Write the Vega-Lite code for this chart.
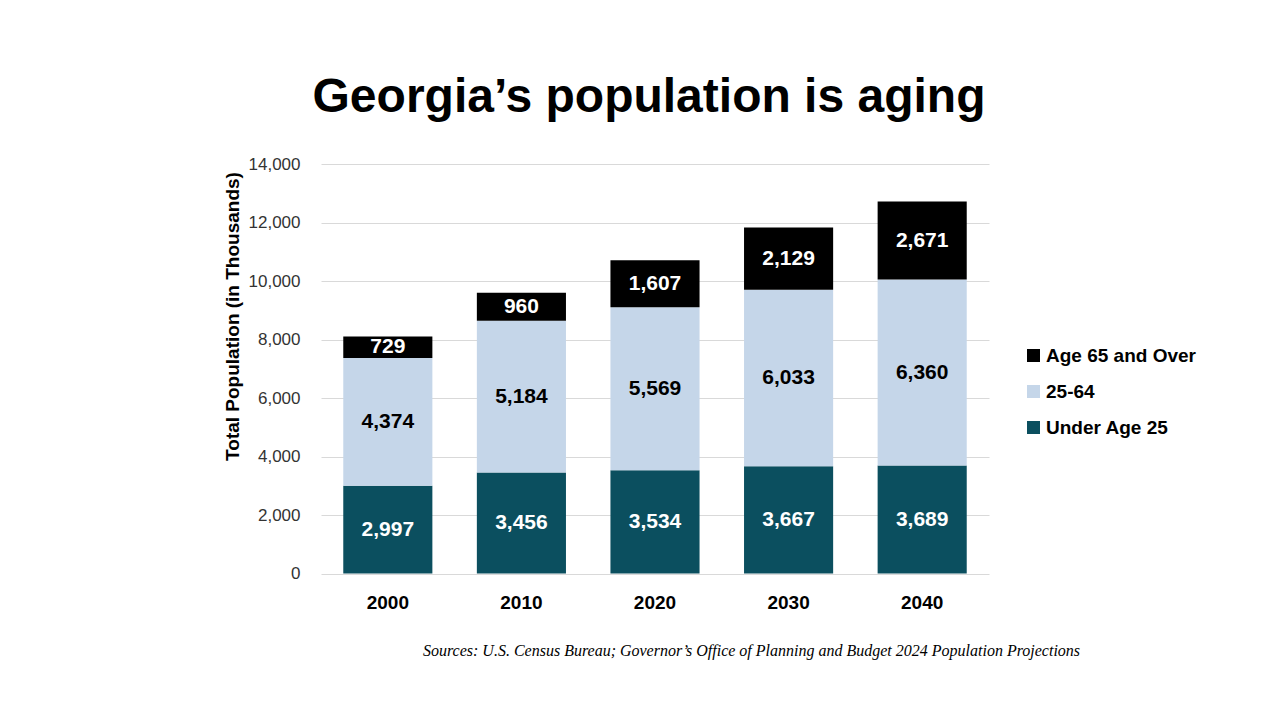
{
  "$schema": "https://vega.github.io/schema/vega-lite/v6.json",
  "width": 668,
  "height": 409.5,
  "autosize": {"type": "none"},
  "padding": {"left": 321, "top": 164, "right": 296, "bottom": 147.5},
  "background": "white",
  "title": {
    "text": "Georgia’s population is aging",
    "frame": "group",
    "anchor": "middle",
    "dx": -6,
    "offset": -5,
    "baseline": "alphabetic",
    "font": "Liberation Sans",
    "fontSize": 48,
    "fontWeight": "bold",
    "color": "#000000"
  },
  "data": {
    "values": [
      {"year": "2000", "group": "Under Age 25", "population": 2997, "order": 1},
      {"year": "2000", "group": "25-64", "population": 4374, "order": 2},
      {"year": "2000", "group": "Age 65 and Over", "population": 729, "order": 3},
      {"year": "2010", "group": "Under Age 25", "population": 3456, "order": 1},
      {"year": "2010", "group": "25-64", "population": 5184, "order": 2},
      {"year": "2010", "group": "Age 65 and Over", "population": 960, "order": 3},
      {"year": "2020", "group": "Under Age 25", "population": 3534, "order": 1},
      {"year": "2020", "group": "25-64", "population": 5569, "order": 2},
      {"year": "2020", "group": "Age 65 and Over", "population": 1607, "order": 3},
      {"year": "2030", "group": "Under Age 25", "population": 3667, "order": 1},
      {"year": "2030", "group": "25-64", "population": 6033, "order": 2},
      {"year": "2030", "group": "Age 65 and Over", "population": 2129, "order": 3},
      {"year": "2040", "group": "Under Age 25", "population": 3689, "order": 1},
      {"year": "2040", "group": "25-64", "population": 6360, "order": 2},
      {"year": "2040", "group": "Age 65 and Over", "population": 2671, "order": 3}
    ]
  },
  "encoding": {
    "x": {
      "field": "year",
      "type": "nominal",
      "sort": null,
      "title": "Sources: U.S. Census Bureau; Governor’s Office of Planning and Budget 2024 Population Projections",
      "scale": {"paddingInner": 0.333, "paddingOuter": 0.1667}
    },
    "order": {"field": "order", "type": "quantitative"}
  },
  "layer": [
    {
      "mark": {"type": "bar"},
      "encoding": {
        "y": {
          "field": "population",
          "type": "quantitative",
          "stack": "zero",
          "title": "Total Population (in Thousands)",
          "scale": {"domain": [0, 14000]},
          "axis": {"format": ",.0f", "values": [0, 2000, 4000, 6000, 8000, 10000, 12000, 14000]}
        },
        "color": {
          "field": "group",
          "type": "nominal",
          "scale": {
            "domain": ["Age 65 and Over", "25-64", "Under Age 25"],
            "range": ["#000000", "#c5d6e9", "#0b4f5f"]
          },
          "legend": {
            "title": null,
            "orient": "none",
            "legendX": 703,
            "legendY": 182,
            "padding": 0,
            "symbolType": "square",
            "symbolSize": 169,
            "symbolStrokeWidth": 0,
            "labelFont": "Liberation Sans",
            "labelFontSize": 19,
            "labelFontWeight": "bold",
            "labelColor": "#000000",
            "labelOffset": 3,
            "rowPadding": 16
          }
        }
      }
    },
    {
      "mark": {"type": "text", "font": "Liberation Sans", "fontSize": 21, "fontWeight": "bold", "baseline": "middle", "align": "center"},
      "encoding": {
        "y": {
          "field": "population",
          "type": "quantitative",
          "stack": "zero",
          "bandPosition": 0.5,
          "title": "Total Population (in Thousands)",
          "scale": {"domain": [0, 14000]},
          "axis": {"format": ",.0f", "values": [0, 2000, 4000, 6000, 8000, 10000, 12000, 14000]}
        },
        "text": {"field": "population", "type": "quantitative", "format": ","},
        "color": {
          "condition": {"test": "datum.group === '25-64'", "value": "#000000"},
          "value": "#ffffff"
        }
      }
    }
  ],
  "config": {
    "view": {"stroke": null},
    "axisY": {
      "grid": true,
      "gridColor": "#d9d9d9",
      "gridWidth": 1,
      "domain": false,
      "ticks": false,
      "labelFont": "Liberation Sans",
      "labelFontSize": 17,
      "labelColor": "#333333",
      "labelPadding": 21,
      "titleFont": "Liberation Sans",
      "titleFontSize": 19,
      "titleFontWeight": "bold",
      "titleColor": "#000000",
      "titleX": -89,
      "titleY": 152,
      "titleAlign": "center",
      "titleBaseline": "middle",
      "titleAngle": -90
    },
    "axisX": {
      "grid": false,
      "domain": false,
      "ticks": false,
      "labelAngle": 0,
      "labelFont": "Liberation Sans",
      "labelFontSize": 19,
      "labelFontWeight": "bold",
      "labelColor": "#000000",
      "labelPadding": 20,
      "titleFont": "Liberation Serif",
      "titleFontStyle": "italic",
      "titleFontWeight": "normal",
      "titleFontSize": 16,
      "titleColor": "#000000",
      "titleX": 430,
      "titleY": 76.5,
      "titleAlign": "center",
      "titleBaseline": "middle"
    }
  }
}
